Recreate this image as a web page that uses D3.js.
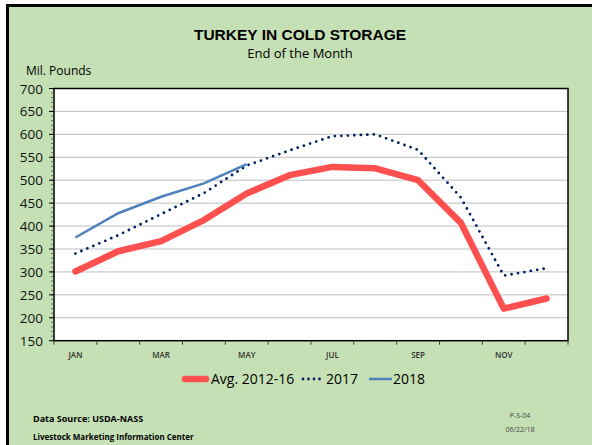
<!DOCTYPE html>
<html>
<head>
    <meta charset="utf-8">
    <script src="https://d3js.org/d3.v7.min.js"></script>
    <style>
        body { margin: 0; background: #fff; }
        svg text { font-family: "Open Sans", "Liberation Sans", sans-serif; }
    </style>
</head>
<body>
<div id="chart"></div>
<script>
    // data
    let months = ["JAN","FEB","MAR","APR","MAY","JUN","JUL","AUG","SEP","OCT","NOV","DEC"];
    let monthLabels = ["JAN","MAR","MAY","JUL","SEP","NOV"];
    let avg1216 = [301, 345, 367, 413, 471, 511, 529, 526, 500, 407, 220, 242];
    let y2017 = [340, 380, 426, 472, 532, 565, 596, 600, 566, 462, 292, 308];
    let y2018 = [375, 428, 464, 493, 535];
    let yTicks = [150, 200, 250, 300, 350, 400, 450, 500, 550, 600, 650, 700];

    let W = 592, H = 445;
    let plot = {left: 54, top: 88.5, right: 568, bottom: 340.7};

    let svg = d3.select("#chart").append("svg")
        .attr("width", W).attr("height", H);

    // background + frame
    svg.append("rect").attr("x", 0).attr("y", 0).attr("width", W).attr("height", H).attr("fill", "#fff");
    svg.append("rect").attr("x", 7.5).attr("y", 5.5).attr("width", W + 10).attr("height", H + 10)
        .attr("fill", "#c5e0b4").attr("stroke", "#000").attr("stroke-width", 3);

    let x = d3.scaleBand().domain(months).range([plot.left, plot.right]);
    let y = d3.scaleLinear().domain([150, 700]).range([plot.bottom, plot.top]);

    // plot area
    svg.append("rect")
        .attr("x", plot.left).attr("y", plot.top)
        .attr("width", plot.right - plot.left).attr("height", plot.bottom - plot.top)
        .attr("fill", "#fff");

    // gridlines
    svg.append("g").selectAll("line")
        .data(yTicks.slice(1, -1))
        .join("line")
        .attr("x1", plot.left).attr("x2", plot.right)
        .attr("y1", d => y(d)).attr("y2", d => y(d))
        .attr("stroke", "#bfbfbf").attr("stroke-width", 1);

    svg.append("rect")
        .attr("x", plot.left).attr("y", plot.top)
        .attr("width", plot.right - plot.left).attr("height", plot.bottom - plot.top)
        .attr("fill", "none").attr("stroke", "#000").attr("stroke-width", 1.5);

    // y axis: major + minor ticks
    let minor = d3.range(150, 701, 10);
    svg.append("g").selectAll("line")
        .data(minor)
        .join("line")
        .attr("x1", plot.left - 3).attr("x2", plot.left)
        .attr("y1", d => y(d)).attr("y2", d => y(d))
        .attr("stroke", "#404040").attr("stroke-width", 0.7);
    svg.append("g").selectAll("line")
        .data(yTicks)
        .join("line")
        .attr("x1", plot.left - 5).attr("x2", plot.left)
        .attr("y1", d => y(d)).attr("y2", d => y(d))
        .attr("stroke", "#000").attr("stroke-width", 1);
    svg.append("g").selectAll("text")
        .data(yTicks)
        .join("text")
        .attr("x", 43).attr("y", d => y(d) + 5)
        .attr("text-anchor", "end")
        .attr("font-size", 13.5)
        .attr("fill", "#111")
        .text(d => d);

    // x axis ticks between categories
    let bounds = months.map(m => x(m)).concat([plot.right]);
    svg.append("g").selectAll("line")
        .data(bounds)
        .join("line")
        .attr("x1", d => d).attr("x2", d => d)
        .attr("y1", plot.bottom).attr("y2", plot.bottom + 4)
        .attr("stroke", "#404040").attr("stroke-width", 1);
    svg.append("g").selectAll("text")
        .data(monthLabels)
        .join("text")
        .attr("x", d => x(d) + x.bandwidth() / 2)
        .attr("y", plot.bottom + 17)
        .attr("text-anchor", "middle")
        .attr("font-size", 8)
        .attr("font-weight", 600)
        .attr("fill", "#333")
        .text(d => d);

    let cx = i => x(months[i]) + x.bandwidth() / 2;
    let line = d3.line().x((d, i) => cx(i)).y(d => y(d));

    svg.append("path").datum(avg1216).attr("d", line)
        .attr("fill", "none").attr("stroke", "#ff5050").attr("stroke-width", 6.5)
        .attr("stroke-linecap", "round").attr("stroke-linejoin", "round");
    svg.append("path").datum(y2017).attr("d", line)
        .attr("fill", "none").attr("stroke", "#002060").attr("stroke-width", 2.8)
        .attr("stroke-dasharray", "0 6.5").attr("stroke-linecap", "round");
    svg.append("path").datum(y2018).attr("d", line)
        .attr("fill", "none").attr("stroke", "#4f81bd").attr("stroke-width", 2.5);

    // titles
    svg.append("text").attr("x", 300).attr("y", 40).attr("text-anchor", "middle")
        .style("font-family", "'Liberation Sans', Arial, sans-serif")
        .attr("font-weight", "bold").attr("font-size", 15.5).text("TURKEY IN COLD STORAGE");
    svg.append("text").attr("x", 300).attr("y", 58).attr("text-anchor", "middle")
        .attr("font-size", 13).text("End of the Month");
    svg.append("text").attr("x", 26).attr("y", 75)
        .attr("font-size", 12).text("Mil. Pounds");

    // legend
    let lg = svg.append("g");
    lg.append("line").attr("x1", 185).attr("x2", 206).attr("y1", 379).attr("y2", 379)
        .attr("stroke", "#ff5050").attr("stroke-width", 6.5).attr("stroke-linecap", "round");
    lg.append("text").attr("x", 211).attr("y", 384).attr("font-size", 14).text("Avg. 2012-16");
    lg.append("line").attr("x1", 303).attr("x2", 322).attr("y1", 379).attr("y2", 379)
        .attr("stroke", "#002060").attr("stroke-width", 2.8)
        .attr("stroke-dasharray", "0 5.5").attr("stroke-linecap", "round");
    lg.append("text").attr("x", 326).attr("y", 384).attr("font-size", 14).text("2017");
    lg.append("line").attr("x1", 369).attr("x2", 392).attr("y1", 379).attr("y2", 379)
        .attr("stroke", "#4f81bd").attr("stroke-width", 2.5);
    lg.append("text").attr("x", 393).attr("y", 384).attr("font-size", 14).text("2018");

    // footer
    svg.append("text").attr("x", 33).attr("y", 422).attr("font-size", 9)
        .attr("font-weight", "bold").text("Data Source:  USDA-NASS");
    svg.append("text").attr("x", 33).attr("y", 440).attr("font-size", 8)
        .attr("font-weight", "bold").text("Livestock Marketing Information Center");
    svg.append("text").attr("x", 520).attr("y", 418).attr("text-anchor", "middle")
        .attr("font-size", 7).attr("fill", "#444").text("P-S-04");
    svg.append("text").attr("x", 520).attr("y", 432).attr("text-anchor", "middle")
        .attr("font-size", 7).attr("fill", "#444").text("06/22/18");
</script>
</body>
</html>
